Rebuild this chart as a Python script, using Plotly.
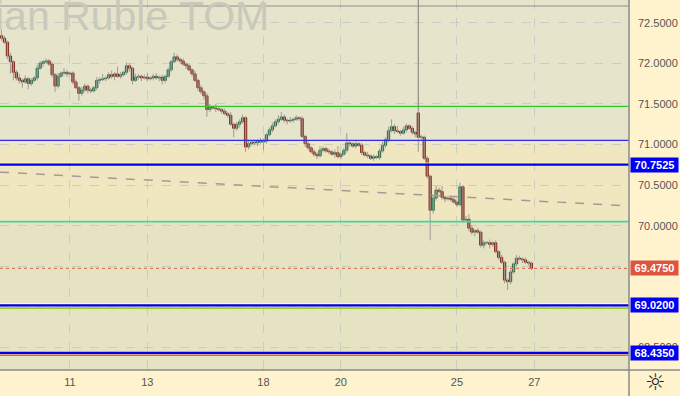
import plotly.graph_objects as go

# ---------------- data ----------------
# hourly closes (USD/RUB TOM), Oct 7 (partial) .. Oct 26
closes = [
    72.31, 72.26, 72.09, 72.02, 71.89, 71.82, 71.79, 71.77, 71.81, 71.75,
    71.79, 71.82, 71.94, 72.00, 72.02, 72.03, 71.99, 71.86, 71.72, 71.84,
    71.88, 71.89, 71.87, 71.88, 71.77, 71.70, 71.63, 71.67, 71.72, 71.67,
    71.66, 71.70, 71.79, 71.80, 71.81, 71.82, 71.86, 71.84, 71.87, 71.84,
    71.86, 71.89, 71.97, 71.94, 71.79, 71.83, 71.84, 71.82, 71.83, 71.81,
    71.82, 71.84, 71.82, 71.83, 71.79, 71.84, 71.92, 72.02, 72.08, 72.05,
    72.03, 71.99, 71.97, 71.92, 71.87, 71.79, 71.70, 71.65, 71.60, 71.43,
    71.46, 71.45, 71.44, 71.43, 71.41, 71.38, 71.36, 71.25, 71.20, 71.25,
    71.28, 71.33, 70.97, 71.01, 71.03, 71.02, 71.04, 71.03, 71.04, 71.12,
    71.18, 71.23, 71.28, 71.31, 71.34, 71.30, 71.29, 71.30, 71.31, 71.33,
    71.32, 71.10, 71.01, 70.96, 70.91, 70.88, 70.86, 70.93, 70.95, 70.92,
    70.91, 70.88, 70.90, 70.85, 70.88, 70.93, 71.02, 71.01, 70.98, 71.01,
    70.99, 70.90, 70.87, 70.86, 70.83, 70.85, 70.84, 70.92, 70.99, 71.06,
    71.17, 71.22, 71.17, 71.16, 71.14, 71.18, 71.23, 71.20, 71.15, 71.13,
    71.09, 71.09, 70.83, 70.61, 70.19, 70.34, 70.44, 70.42, 70.35, 70.33,
    70.34, 70.32, 70.29, 70.26, 70.48, 70.07, 70.08, 69.97, 69.92, 69.94,
    69.92, 69.76, 69.79, 69.79, 69.77, 69.79, 69.68, 69.61, 69.55, 69.33,
    69.31, 69.43, 69.53, 69.60, 69.59, 69.58, 69.55, 69.54, 69.475,
]
first_open = 72.34
session_open_22 = 71.39      # gapped open of the first candle on the 22nd

wick_up = [
    .07, .03, .02, .04, .02, .03, .05, .02, .04, .02,
    .03, .02, .04, .03, .02, .03, .02, .03, .02, .04,
    .02, .05, .03, .02, .02, .03, .02, .04, .03, .02,
    .03, .02, .04, .03, .06, .02, .03, .05, .02, .09,
    .03, .02, .04, .03, .02, .04, .03, .02, .03, .05,
    .02, .03, .04, .02, .03, .02, .03, .02, .05, .03,
    .02, .03, .02, .03, .02, .04, .02, .03, .02, .03,
    .04, .02, .05, .03, .02, .03, .02, .04, .02, .03,
    .03, .04, .02, .05, .02, .03, .02, .04, .03, .02,
    .03, .04, .03, .05, .06, .03, .02, .04, .02, .03,
    .02, .03, .02, .04, .02, .03, .02, .05, .03, .02,
    .03, .02, .04, .08, .02, .03, .12, .03, .02, .04,
    .02, .03, .02, .04, .02, .03, .02, .03, .04, .03,
    .05, .09, .03, .06, .02, .04, .03, .02, .03, .02,
    .04, .03, .02, .03, .02, .03, .05, .03, .07, .02,
    .03, .02, .03, .02, .05, .02, .04, .06, .03, .02,
    .03, .02, .03, .02, .04, .02, .03, .02, .03, .02,
    .02, .03, .02, .04, .03, .02, .03, .02, .02,
]
wick_dn = [
    .03, .02, .04, .15, .10, .03, .04, .07, .02, .07,
    .03, .02, .03, .02, .04, .03, .02, .03, .07, .03,
    .02, .03, .04, .02, .03, .02, .09, .03, .02, .04,
    .03, .02, .03, .04, .02, .03, .02, .03, .05, .02,
    .03, .02, .03, .04, .05, .02, .03, .04, .02, .03,
    .02, .03, .02, .04, .05, .03, .02, .03, .02, .03,
    .03, .02, .04, .02, .03, .02, .04, .03, .05, .09,
    .03, .02, .04, .02, .03, .02, .03, .02, .11, .03,
    .04, .02, .06, .03, .02, .03, .04, .02, .10, .03,
    .02, .03, .02, .03, .02, .03, .04, .02, .03, .02,
    .03, .02, .04, .03, .02, .03, .04, .02, .03, .02,
    .03, .02, .04, .02, .03, .02, .03, .04, .02, .03,
    .02, .03, .02, .03, .02, .03, .02, .03, .02, .03,
    .03, .02, .04, .02, .03, .02, .03, .02, .03, .04,
    .18, .03, .02, .03, .37, .04, .03, .02, .03, .04,
    .02, .03, .02, .03, .02, .03, .02, .04, .03, .05,
    .02, .03, .04, .02, .05, .03, .02, .03, .02, .04,
    .10, .03, .02, .03, .02, .04, .02, .03, .02,
]

days = ["07", "08", "11", "12", "13", "14", "15", "18", "19", "20",
        "21", "22", "25", "26", "27"]
candles_per_day = [10, 13, 13, 13, 13, 13, 13, 13, 13, 13, 13, 13, 13, 13, 13]
shown_days = ["11", "13", "18", "20", "25", "27"]

# price-axis ticks that are not hidden behind the level labels
price_ticks = [68.5, 70.0, 70.5, 71.0, 71.5, 72.0, 72.5]

last_price = 69.475
level_prices = [72.706, 71.47, 71.05, 70.772, 70.7525, 70.05,
                69.04, 69.02, 68.985, 68.435, 68.405]
label_values = [70.7525, 69.475, 69.02, 68.435]
label_texts = ["70.7525", "69.4750", "69.0200", "68.4350"]
trend_left, trend_right = 70.66, 70.243
zone_mid = (70.05, 71.05)
watermark = "US Dollar / Russian Ruble TOM"

# ---------------- styles ----------------
level_styles = [
    ("#8E8E8E", 1), ("#2ECC2E", 1.2), ("#2B2BF0", 1.2), ("#FFFFA8", 1),
    ("#0000F0", 2.2), ("#45D89E", 1.6), ("#FFFFC0", 1), ("#0000F0", 2.2),
    ("#9CCB2E", 1.6), ("#0000F0", 2.2), ("#D2674E", 1.6),
]
label_bg = ["#0000F5", "#E0533F", "#0000F5", "#0000F5"]
Y_MIN, Y_MAX = 68.223, 72.78
X_MIN, X_MAX = -0.5, 210.79
grid_col = "rgba(175,185,195,0.55)"
UP_FILL, UP_LINE = "#3E9C6E", "#1F5A3C"
DN_FILL, DN_LINE = "#C0402C", "#6A1E12"
MIN_BODY = 0.004

# ---------------- derived ----------------
n = len(closes)
xs = list(range(n))
day_start = {}
pos = 0
for d, k in zip(days, candles_per_day):
    day_start[d] = pos
    pos += k
opens = [first_open] + closes[:-1]
spike = day_start["22"]
opens[spike] = session_open_22
highs = [max(o, c) + w for o, c, w in zip(opens, closes, wick_up)]
lows = [min(o, c) - w for o, c, w in zip(opens, closes, wick_dn)]

wx, wy = [], []
for i in xs:
    wx += [i, i, None]
    wy += [lows[i], highs[i], None]

up = [c >= o for o, c in zip(opens, closes)]
body_base = [min(o, c) for o, c in zip(opens, closes)]
body_h = [max(abs(c - o), MIN_BODY) for o, c in zip(opens, closes)]

fig = go.Figure()
fig.add_trace(go.Scatter(x=wx, y=wy, mode="lines",
                         line=dict(color="#9C9C96", width=1),
                         hoverinfo="skip", showlegend=False))
fig.add_trace(go.Bar(
    x=xs, y=body_h, base=body_base, width=0.78,
    marker=dict(color=[UP_FILL if u else DN_FILL for u in up],
                line=dict(color=[UP_LINE if u else DN_LINE for u in up], width=0.8)),
    hoverinfo="skip", showlegend=False))

shapes = []
shapes.append(dict(type="rect", xref="paper", yref="y", x0=0, x1=1,
                   y0=zone_mid[0], y1=zone_mid[1], fillcolor="#F0E6C0",
                   line=dict(width=0), layer="below"))
shapes.append(dict(type="rect", xref="paper", yref="y", x0=0, x1=1,
                   y0=Y_MIN, y1=zone_mid[0], fillcolor="#E6E3C3",
                   line=dict(width=0), layer="below"))
for p, (col, w) in zip(level_prices, level_styles):
    shapes.append(dict(type="line", xref="paper", yref="y", x0=0, x1=1,
                       y0=p, y1=p, line=dict(color=col, width=w)))
shapes.append(dict(type="line", xref="paper", yref="y", x0=0, x1=1,
                   y0=last_price, y1=last_price,
                   line=dict(color="#E07A5A", width=1.2, dash="dot")))
shapes.append(dict(type="line", xref="x", yref="y", x0=X_MIN, x1=X_MAX,
                   y0=trend_left, y1=trend_right,
                   line=dict(color="#A29C96", width=1.5, dash="dash")))
shapes.append(dict(type="line", xref="x", yref="y", x0=spike, x1=spike,
                   y0=highs[spike], y1=Y_MAX,
                   line=dict(color="#7E7E7E", width=1)))
shapes.append(dict(type="line", xref="paper", yref="paper", x0=1, x1=1,
                   y0=-0.08, y1=1, line=dict(color="#8A8A8A", width=1.5)))
shapes.append(dict(type="line", xref="paper", yref="paper", x0=0, x1=1.09,
                   y0=0, y1=0, line=dict(color="#8A8A8A", width=1.5)))

annotations = []
annotations.append(dict(text=watermark, xref="paper", yref="paper",
                        x=271 / 629, y=0.958, xanchor="right", yanchor="middle",
                        showarrow=False,
                        font=dict(family="Liberation Sans", size=41, color="#C9C9BA")))
for v, t, bg in zip(label_values, label_texts, label_bg):
    annotations.append(dict(text="<b>%s</b>" % t, xref="paper", yref="y",
                            x=1, y=v, xanchor="left", yanchor="middle",
                            xshift=1, showarrow=False, bgcolor=bg,
                            width=47, height=14, borderpad=0,
                            font=dict(family="Liberation Sans", size=11, color="white")))
annotations.append(dict(text="☼", xref="paper", yref="paper", x=655 / 629,
                        y=-12 / 370, xanchor="center", yanchor="middle",
                        showarrow=False,
                        font=dict(family="DejaVu Sans", size=23, color="#222222")))

fig.update_layout(
    width=680, height=396, autosize=False,
    margin=dict(l=0, r=51, t=0, b=26),
    paper_bgcolor="#FFF3CE", plot_bgcolor="#E6E4CB",
    showlegend=False, hovermode=False, barmode="overlay",
    shapes=shapes, annotations=annotations,
    xaxis=dict(range=[X_MIN, X_MAX],
               tickvals=[day_start[d] for d in shown_days], ticktext=shown_days,
               showgrid=True, gridcolor=grid_col, griddash="dash",
               zeroline=False, showline=False, ticks="", ticklabelstandoff=4,
               tickfont=dict(family="Liberation Sans", size=11, color="#555555")),
    yaxis=dict(range=[Y_MIN, Y_MAX], side="right",
               tickvals=price_ticks, tickformat=".4f", showgrid=False,
               zeroline=False, showline=False, ticks="", ticklabelstandoff=8,
               tickfont=dict(family="Liberation Sans", size=11, color="#555555")),
    yaxis2=dict(range=[Y_MIN, Y_MAX], overlaying="y", side="right",
                dtick=0.5, tick0=0, showticklabels=False, showgrid=True,
                gridcolor=grid_col, griddash="dash", zeroline=False),
)
# invisible trace to show the full 0.5-step grid on the overlay axis
fig.add_trace(go.Scatter(x=[X_MIN], y=[Y_MIN], yaxis="y2", mode="markers",
                         marker=dict(opacity=0), hoverinfo="skip", showlegend=False))
fig.write_html("out.html")
